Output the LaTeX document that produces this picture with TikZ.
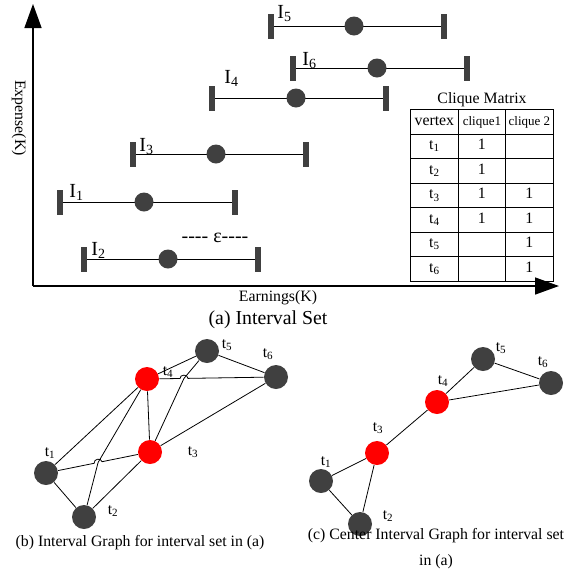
\documentclass[tikz,border=0pt]{standalone}
\usepackage{fontspec}
\setmainfont{Liberation Serif}
\newfontfamily\epsfont{Liberation Serif}
\usepackage{tikz}
\usetikzlibrary{matrix,arrows.meta,calc}

\definecolor{dotgray}{HTML}{404040}
\definecolor{hotred}{HTML}{FF0000}

\newcommand{\normtxt}{\fontsize{15.8}{18}\selectfont}
\newcommand{\bigtxt}{\fontsize{19.8}{22}\selectfont}
\newcommand{\ivtxt}{\fontsize{20}{22}\selectfont}
\newcommand{\smalltxt}{\fontsize{13}{15}\selectfont}

\tikzset{
  axisline/.style={line width=1.5pt, -{Triangle[length=24pt,width=17pt]}},
  ivbar/.style={rectangle, fill=dotgray, minimum width=6, minimum height=25, inner sep=0},
  ivdot/.style={circle, fill=dotgray, minimum size=19, inner sep=0},
  gnode/.style={circle, fill=#1, minimum size=24, inner sep=0},
  hop/.style={bend left=90, looseness=1.4}
}

\begin{document}
\begin{tikzpicture}[x=1pt, y=-1pt, font=\normtxt, line width=0.8pt]
\useasboundingbox (0,0) rectangle (579,574);
% axes
\coordinate (o) at (33,286);
\coordinate (ytip) at (33,4);
\coordinate (xtip) at (559,286);
\draw[axisline] (o) -- (ytip);
\draw[axisline] (o) -- (xtip);
\node[rotate=-90] (ylab) at (19,118) {Expense(K)};
\node (xlab) at (278,298) {Earnings(K)};
\node[font=\bigtxt] (capa) at (268,320) {(a) Interval Set};

% intervals
\foreach \n/\xl/\xr/\xd/\yy/\lx/\ly in {1/60/235/144/202/69/197, 2/84/258/168/259/91/255,
    3/133/306/216/154/139/151, 4/212/386/296/98/224/83, 5/271/444/354/26/277/18, 6/293/467/377/68/302/65}{
  \node[ivbar] (l\n) at (\xl,\yy) {};
  \node[ivbar] (r\n) at (\xr,\yy) {};
  \draw (l\n) -- (r\n);
  \node[ivdot] (d\n) at (\xd,\yy) {};
  \node[font=\ivtxt, anchor=base west, inner sep=0] (il\n) at (\lx,\ly) {I\textsubscript{\n}};
}
\node[font=\epsfont\ivtxt] (eps) at (215,238) {---- ε----};

% clique matrix
\node (cmt) at (482,100) {Clique Matrix};
\matrix (cm) [matrix of nodes, nodes in empty cells, anchor=north west, inner sep=0, outer sep=0,
  row sep=-\pgflinewidth, column sep=-\pgflinewidth,
  nodes={draw, minimum height=24.5, inner sep=0, outer sep=0, text height=11, text depth=4},
  column 1/.style={nodes={minimum width=48}},
  column 2/.style={nodes={minimum width=47}},
  column 3/.style={nodes={minimum width=48}}] at (410,109) {
  vertex & |[font=\smalltxt]| clique1 & |[font=\smalltxt]| clique 2 \\
  t\textsubscript{1} & 1 & \\
  t\textsubscript{2} & 1 & \\
  t\textsubscript{3} & 1 & 1 \\
  t\textsubscript{4} & 1 & 1 \\
  t\textsubscript{5} & & 1 \\
  t\textsubscript{6} & & 1 \\
};

% (b) interval graph
\foreach \n/\x/\y/\lx/\ly/\c in {1/46/473/50/453/dotgray, 2/84/517/113/511/dotgray, 3/150/452/193/452/hotred,
    4/147/379/168/372/hotred, 5/207/351/227/345/dotgray, 6/276/377/268/354/dotgray}{
  \node[gnode=\c] (b\n) at (\x,\y) {};
  \node (bl\n) at (\lx,\ly) {t\textsubscript{\n}};
}
\coordinate (h1) at (184,381);
\coordinate (h2) at (97,457);
\coordinate (x1) at ($(b4)!(h1)!(b6)$);
\coordinate (x2) at ($(b1)!(h2)!(b3)$);
\draw (b1) -- (b2) (b1) -- (b4) (b2) -- (b3) (b3) -- (b4) (b3) -- (b6) (b4) -- (b5) (b5) -- (b6);
\draw (b5) -- (x1) -- (b3);
\draw (b4) -- (x2) -- (b2);
\draw (b4) -- ($(x1)!4pt!(b4)$) to[hop] ($(x1)!4pt!(b6)$) -- (b6);
\draw (b1) -- ($(x2)!4pt!(b1)$) to[hop] ($(x2)!4pt!(b3)$) -- (b3);
\node (capb) at (140,543) {(b) Interval Graph for interval set in (a)};

% (c) center interval graph
\foreach \n/\x/\y/\lx/\ly/\c in {1/321/481/326/462/dotgray, 2/360/524/388/516/dotgray, 3/377/453/378/428/hotred,
    4/437/402/443/381/hotred, 5/483/359/501/348/dotgray, 6/551/383/543/362/dotgray}{
  \node[gnode=\c] (c\n) at (\x,\y) {};
  \node (cl\n) at (\lx,\ly) {t\textsubscript{\n}};
}
\draw (c1) -- (c2) (c1) -- (c3) (c2) -- (c3) (c3) -- (c4) (c4) -- (c5) (c4) -- (c6) (c5) -- (c6);
\node[font=\fontsize{15.8}{26}\selectfont, align=center] (capc) at (436,549)
  {(c) Center Interval Graph for interval set\\in (a)};
\end{tikzpicture}
\end{document}
